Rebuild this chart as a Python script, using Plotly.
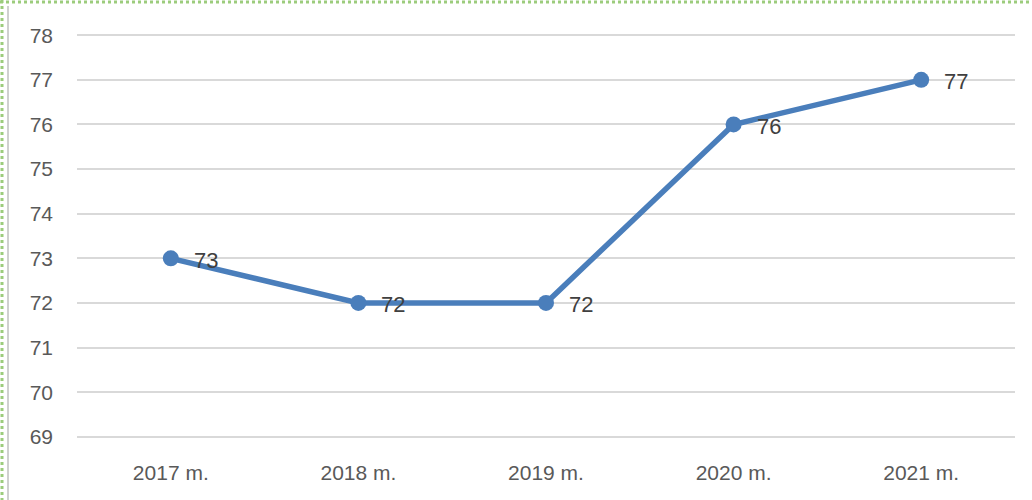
import plotly.graph_objects as go

categories = ["2017 m.", "2018 m.", "2019 m.", "2020 m.", "2021 m."]
values = [73, 72, 72, 76, 77]
y_ticks = [69, 70, 71, 72, 73, 74, 75, 76, 77, 78]

W, H = 1032, 500
L, R, T, B = 77, 1015, 33, 439
FONT = "Liberation Sans, Arial, sans-serif"

def px_x(p):
    return (p - L) / (R - L)

def px_y(p):
    return (B - p) / (B - T)

fig = go.Figure()
fig.add_trace(go.Scatter(
    x=categories, y=values,
    mode="lines+markers",
    line=dict(color="#4a7ebb", width=5.5),
    marker=dict(color="#4a7ebb", size=16),
    cliponaxis=False,
    hoverinfo="skip",
))

annotations = [
    dict(x=c, y=v, xref="x", yref="y", text=str(v), showarrow=False,
         xanchor="left", yanchor="middle", xshift=21, yshift=-2,
         font=dict(family=FONT, size=22, color="#404040"))
    for c, v in zip(categories, values)
]

shapes = [
    dict(type="line", xref="paper", yref="paper", x0=px_x(0), x1=px_x(W), y0=px_y(2), y1=px_y(2),
         line=dict(color="#9ccc7c", width=3, dash="dot")),
    dict(type="line", xref="paper", yref="paper", x0=px_x(2), x1=px_x(2), y0=px_y(0), y1=px_y(H),
         line=dict(color="#9ccc7c", width=3, dash="dot")),
    dict(type="line", xref="paper", yref="paper", x0=px_x(8), x1=px_x(8), y0=px_y(6), y1=px_y(H),
         line=dict(color="#d0d0d0", width=2)),
]

fig.update_layout(
    width=W, height=H,
    margin=dict(l=L, r=W - R, t=T, b=H - B),
    paper_bgcolor="white", plot_bgcolor="white",
    showlegend=False,
    shapes=shapes,
    annotations=annotations,
    font=dict(family=FONT, size=20, color="#595959"),
    xaxis=dict(range=[-0.5, 4.5], showgrid=False, zeroline=False, showline=False,
               ticks="", ticklabelstandoff=19, tickfont=dict(size=21, color="#595959")),
    yaxis=dict(range=[68.95, 78.05], tickvals=y_ticks, showgrid=True, gridcolor="#d9d9d9", gridwidth=2,
               zeroline=False, showline=False, ticks="", ticklabelstandoff=23,
               tickfont=dict(size=21, color="#595959")),
)

fig.write_html("out.html", config={"displayModeBar": False},
               post_script="document.body.style.margin='0';")
